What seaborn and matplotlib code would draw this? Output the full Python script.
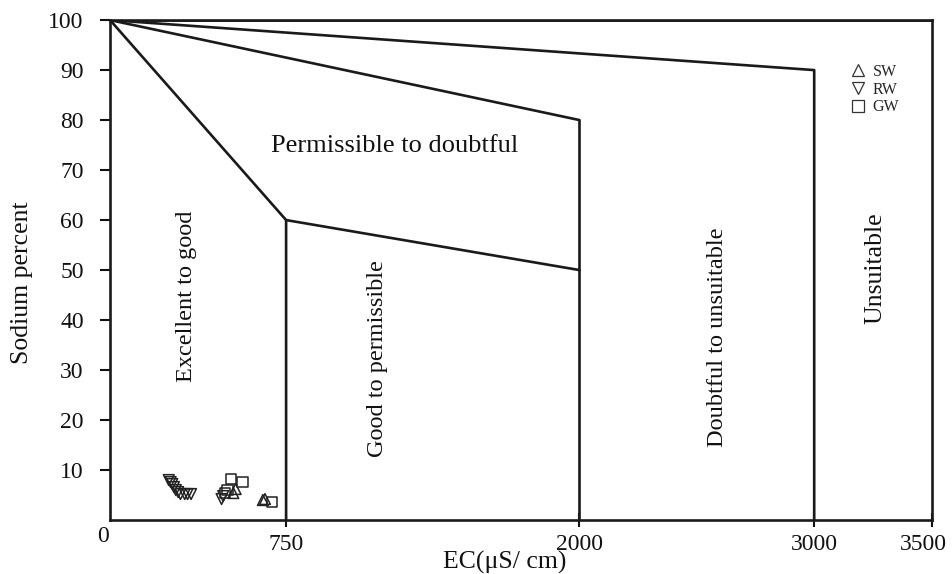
import matplotlib
matplotlib.use("Agg")
import matplotlib.pyplot as plt
import matplotlib.transforms as mtransforms
import seaborn as sns
import pandas as pd
from matplotlib.lines import Line2D

# Data
sw_ec = [525, 535, 651, 660]
sw_na = [5.4, 6.2, 4.0, 4.2]
rw_ec = [250, 258, 265, 272, 280, 290, 300, 318, 330, 345, 475, 482]
rw_na = [8.0, 7.6, 7.2, 6.6, 6.0, 5.6, 5.2, 5.2, 5.2, 5.2, 4.2, 4.8]
gw_ec = [490, 500, 515, 565, 690]
gw_na = [5.4, 6.0, 8.2, 7.6, 3.6]

# Wilcox boundaries (EC, Na%)
bound_x = [[0, 750, 750], [0, 2000, 2000], [750, 2000], [0, 3000, 3000], [0, 3500]]
bound_y = [[100, 60, 0], [100, 80, 0], [60, 50], [100, 90, 0], [100, 100]]

zone_names = ["Permissible to doubtful", "Excellent to good", "Good to permissible",
              "Doubtful to unsuitable", "Unsuitable"]
zone_x = [1213, 325, 1140, 2590, 3260]
zone_y = [74.8, 44.8, 32.2, 36.6, 50.4]
zone_rot = [0, 90, 90, 90, 90]
zone_fs = [19, 17.5, 17.5, 17.5, 18.5]

xticks = [750, 2000, 3000, 3500]
yticks = [10, 20, 30, 40, 50, 60, 70, 80, 90, 100]

sns.set_theme(style="ticks")
plt.rcParams['font.family'] = ['Liberation Serif', 'DejaVu Serif']

fig = plt.figure(figsize=(9.53, 5.74), dpi=100)
ax = fig.add_axes([0.1155, 0.094, 0.862, 0.871])

for bx, by in zip(bound_x, bound_y):
    sns.lineplot(x=bx, y=by, ax=ax, color='#1a1a1a', lw=1.9, sort=False, estimator=None)

groups = [("SW", sw_ec, sw_na, "^"), ("RW", rw_ec, rw_na, "v"), ("GW", gw_ec, gw_na, "s")]
for name, ex, ny, m in groups:
    df = pd.DataFrame({"EC": ex, "Na": ny})
    sns.scatterplot(data=df, x="EC", y="Na", ax=ax, marker=m, s=60,
                    facecolors='none', edgecolor='#222222', linewidth=1.1)

handles = [Line2D([], [], ls='none', marker=m, mfc='none', mec='#333333', ms=8.5, mew=0.9)
           for _, _, _, m in groups]
ax.legend(handles, [g[0] for g in groups], loc='upper left',
          bbox_to_anchor=(0.895, 0.925), frameon=False, fontsize=11.5,
          handlelength=0.8, handletextpad=0.5, labelspacing=0.1, borderaxespad=0)

for t, x, y, r, fs in zip(zone_names, zone_x, zone_y, zone_rot, zone_fs):
    ax.text(x, y, t, rotation=r, ha='center', va='center', fontsize=fs, color='#111111')

ax.set_xlim(0, 3500)
ax.set_ylim(0, 100)
ax.set_xticks(xticks)
ax.set_xticklabels([str(v) for v in xticks])
ax.set_yticks(yticks)
ax.set_yticklabels([str(v) for v in yticks])
ax.tick_params(axis='y', direction='out', length=7, width=1.5, pad=12, labelsize=17, colors='#111111')
ax.tick_params(axis='x', direction='inout', length=10, width=1.5, pad=5, labelsize=17, colors='#111111')
ax.text(-30, -3.2, "0", ha='center', va='center', fontsize=17, color='#111111')

last = ax.get_xticklabels()[-1]
last.set_transform(last.get_transform() + mtransforms.ScaledTranslation(-8 / 100, 0, fig.dpi_scale_trans))

for sp in ax.spines.values():
    sp.set_linewidth(1.9)
    sp.set_color('#1a1a1a')

ax.set_xlabel("EC(μS/ cm)", fontsize=18.5, color='#111111')
ax.xaxis.set_label_coords(0.48, -0.062)
ax.set_ylabel("Sodium percent", fontsize=18.5, color='#111111')
ax.yaxis.set_label_coords(-0.094, 0.474)

fig.savefig("out.png", dpi=100)
